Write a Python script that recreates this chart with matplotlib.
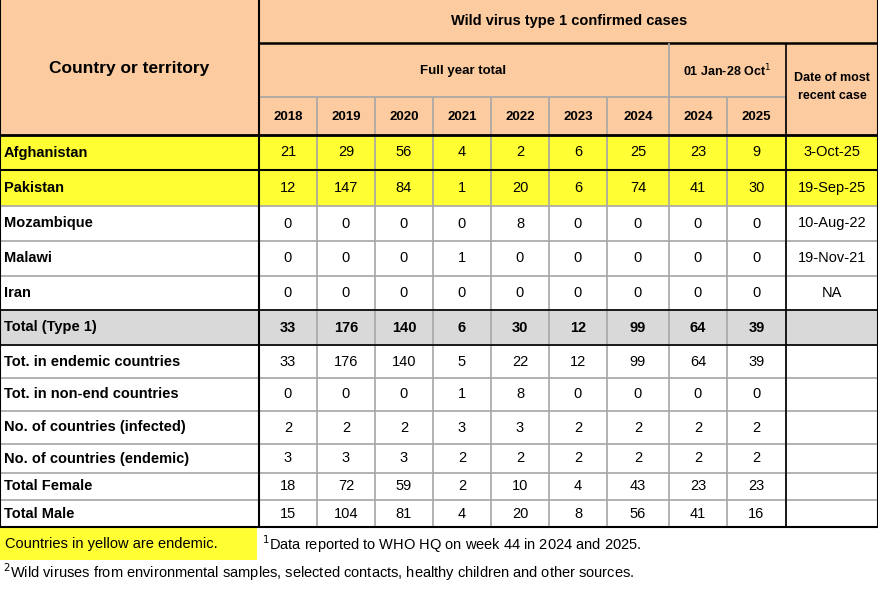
import matplotlib.pyplot as plt
from matplotlib.patches import Rectangle

plt.rcParams['font.family'] = ['Liberation Sans', 'DejaVu Sans']

years = ["2018", "2019", "2020", "2021", "2022", "2023", "2024", "2024", "2025"]
rows = ["Afghanistan", "Pakistan", "Mozambique", "Malawi", "Iran", "Total (Type 1)",
        "Tot. in endemic countries", "Tot. in non-end countries", "No. of countries (infected)",
        "No. of countries (endemic)", "Total Female", "Total Male"]
values = [
    [21, 29, 56, 4, 2, 6, 25, 23, 9],
    [12, 147, 84, 1, 20, 6, 74, 41, 30],
    [0, 0, 0, 0, 8, 0, 0, 0, 0],
    [0, 0, 0, 1, 0, 0, 0, 0, 0],
    [0, 0, 0, 0, 0, 0, 0, 0, 0],
    [33, 176, 140, 6, 30, 12, 99, 64, 39],
    [33, 176, 140, 5, 22, 12, 99, 64, 39],
    [0, 0, 0, 1, 8, 0, 0, 0, 0],
    [2, 2, 2, 3, 3, 2, 2, 2, 2],
    [3, 3, 3, 2, 2, 2, 2, 2, 2],
    [18, 72, 59, 2, 10, 4, 43, 23, 23],
    [15, 104, 81, 4, 20, 8, 56, 41, 16],
]
dates = ["3-Oct-25", "19-Sep-25", "10-Aug-22", "19-Nov-21", "NA", "", "", "", "", "", "", ""]
endemic = [True, True] + [False] * 10
bold_rows = [5]

W, H = 879, 593
PEACH = "#FCCB9F"
YELLOW = "#FFFF33"
GRAY = "#D9D9D9"

xs = [0, 259, 317, 375, 433, 491, 549, 607, 669, 727, 786, 879]
ys = [135, 170, 206, 241, 276, 310, 345, 378, 411, 444, 473, 500, 527]

fig = plt.figure(figsize=(W / 100, H / 100), dpi=100)
ax = fig.add_axes([0, 0, 1, 1])
ax.set_xlim(0, W)
ax.set_ylim(H, 0)
ax.axis('off')

def rect(x0, y0, x1, y1, fc):
    ax.add_patch(Rectangle((x0, y0), x1 - x0, y1 - y0, fc=fc, ec='none'))

def line(x0, y0, x1, y1, c='#A6A6A6', lw=1.2):
    ax.plot([x0, x1], [y0, y1], color=c, lw=lw, solid_capstyle='butt')

# header
rect(0, 0, W, 135, PEACH)
ax.text(129, 68, "Country or territory", ha='center', va='center', fontsize=12.5, weight='bold')
ax.text(569, 21, "Wild virus type 1 confirmed cases", ha='center', va='center', fontsize=10.5, weight='bold')
ax.text(463, 71, "Full year total", ha='center', va='center', fontsize=9.5, weight='bold')
ax.text(727, 71, "01 Jan-28 Oct$^{1}$", ha='center', va='center', fontsize=9, weight='bold')
ax.text(832, 87, "Date of most\nrecent case", ha='center', va='center', fontsize=9, weight='bold', linespacing=1.7)
for i, y in enumerate(years):
    ax.text((xs[i + 1] + xs[i + 2]) / 2, 117, y, ha='center', va='center', fontsize=9.5, weight='bold')

# body
for r, name in enumerate(rows):
    y0, y1 = ys[r], ys[r + 1]
    if endemic[r]:
        rect(0, y0, W, y1, YELLOW)
    elif r in bold_rows:
        rect(0, y0, W, y1, GRAY)
    yc = (y0 + y1) / 2
    ax.text(4, yc, name, ha='left', va='center', fontsize=10.5, weight='bold')
    w = 'bold' if r in bold_rows else 'normal'
    for c, v in enumerate(values[r]):
        ax.text((xs[c + 1] + xs[c + 2]) / 2, yc, str(v), ha='center', va='center', fontsize=10.5, weight=w)
    ax.text(832, yc, dates[r], ha='center', va='center', fontsize=10.5)

# grid lines
for y in ys[1:-1]:
    line(0, y, W, y)
for x in xs[2:-1]:
    line(x, 97, x, ys[-1])
line(xs[1], 43, W, 43, 'black', 1.8)
line(xs[1], 97, xs[10], 97, '#A6A6A6', 1.2)
line(xs[1], 0, xs[1], ys[-1], 'black', 1.5)
line(xs[10], 43, xs[10], ys[-1], 'black', 1.2)
line(xs[8], 43, xs[8], 97, '#A6A6A6', 1.2)
line(0, 135, W, 135, 'black', 2)
line(0, 170, W, 170, 'black', 1.5)
line(0, ys[5], W, ys[5], 'black', 1.2)
line(0, ys[6], W, ys[6], 'black', 1.2)
line(0, ys[-1], W, ys[-1], 'black', 1.5)
line(0, 0, 0, ys[-1], 'black', 1.5)
line(W - 1, 0, W - 1, ys[-1], 'black', 1.5)

# footer
rect(0, 528, 257, 560, YELLOW)
ax.text(5, 544, "Countries in yellow are endemic.", ha='left', va='center', fontsize=10.5)
ax.text(262, 544, "$^{1}$Data reported to WHO HQ on week 44 in 2024 and 2025.", ha='left', va='center', fontsize=10.5)
ax.text(3, 572, "$^{2}$Wild viruses from environmental samples, selected contacts, healthy children and other sources.",
        ha='left', va='center', fontsize=10.5)

fig.savefig("out.png", dpi=100)
